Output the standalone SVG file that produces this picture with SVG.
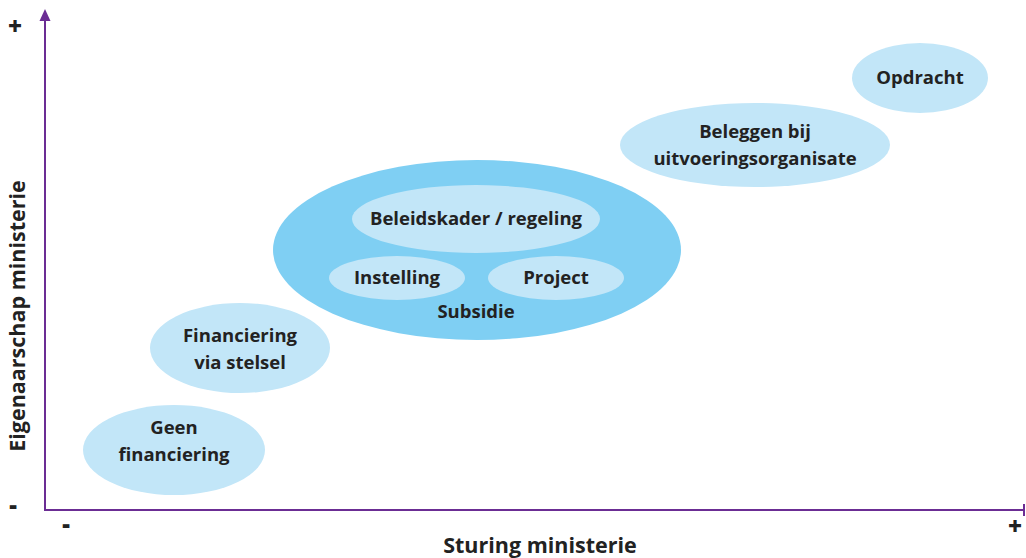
<svg xmlns="http://www.w3.org/2000/svg" width="1026" height="558" viewBox="0 0 1026 558">
<style>
.l{fill:#c2e6f8}
.d{fill:#7fcff3}
.t{font-family:"Open Sans","Noto Sans",sans-serif;font-weight:bold;font-size:18.5px;fill:#222;text-anchor:middle}
.ax{font-family:"Open Sans","Noto Sans",sans-serif;font-weight:bold;font-size:21.5px;fill:#222;text-anchor:middle}
.s{font-family:"Open Sans","Noto Sans",sans-serif;font-weight:800;font-size:24px;fill:#222;text-anchor:middle}
</style>
<rect width="1026" height="558" fill="#fff"/>
<g id="axes">
<line x1="45" y1="18" x2="45" y2="510" stroke="#6b2d94" stroke-width="2"/>
<polygon points="45,9 39.5,21 50.5,21" fill="#6b2d94"/>
<line x1="44" y1="510" x2="1024" y2="510" stroke="#6b2d94" stroke-width="2"/>
<line x1="1024" y1="504" x2="1024" y2="516" stroke="#6b2d94" stroke-width="2"/>
<text class="s" x="15" y="35">+</text>
<text class="s" x="13" y="514">-</text>
<text class="s" x="66" y="533">-</text>
<text class="s" x="1015" y="535">+</text>
<text class="ax" x="540" y="553">Sturing ministerie</text>
<text class="ax" transform="translate(25,316) rotate(-90)">Eigenaarschap ministerie</text>
</g>
<g id="connectors"></g>
<g id="opdracht"><ellipse class="l" cx="920" cy="78" rx="68" ry="35"/><text class="t" x="920" y="84">Opdracht</text></g>
<g id="beleggen"><ellipse class="l" cx="755" cy="145" rx="135" ry="42"/><text class="t" x="755" y="138">Beleggen bij</text><text class="t" x="755" y="165">uitvoeringsorganisate</text></g>
<g id="subsidie"><ellipse class="d" cx="477" cy="250" rx="204" ry="90"/><text class="t" x="476" y="318">Subsidie</text></g>
<g id="beleidskader"><ellipse class="l" cx="476" cy="219" rx="124" ry="34"/><text class="t" x="476" y="225">Beleidskader / regeling</text></g>
<g id="instelling"><ellipse class="l" cx="397" cy="278" rx="68" ry="22"/><text class="t" x="397" y="284">Instelling</text></g>
<g id="project"><ellipse class="l" cx="556" cy="278" rx="68" ry="22"/><text class="t" x="556" y="284">Project</text></g>
<g id="financiering"><ellipse class="l" cx="240" cy="348" rx="90" ry="45"/><text class="t" x="240" y="342">Financiering</text><text class="t" x="240" y="369">via stelsel</text></g>
<g id="geen"><ellipse class="l" cx="174" cy="450" rx="91" ry="45"/><text class="t" x="174" y="434">Geen</text><text class="t" x="174" y="461">financiering</text></g>
</svg>
